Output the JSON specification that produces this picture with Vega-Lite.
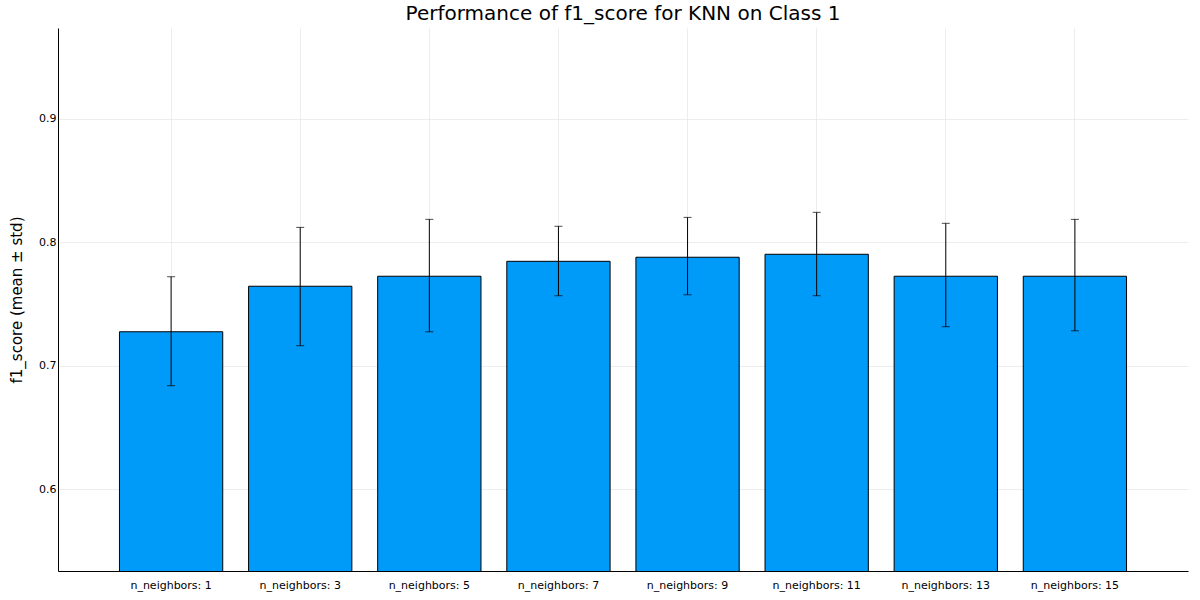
{
  "$schema": "https://vega.github.io/schema/vega-lite/v6.json",
  "width": 1130,
  "height": 543,
  "autosize": "none",
  "padding": {"left": 58, "top": 28, "right": 12, "bottom": 29},
  "background": "white",
  "title": {"text": "Performance of f1_score for KNN on Class 1", "fontSize": 20, "font": "DejaVu Sans", "fontWeight": "normal", "offset": 4},
  "data": {
    "values": [
      {"model": "n_neighbors: 1", "mean": 0.7275, "lo": 0.6838, "hi": 0.7721},
      {"model": "n_neighbors: 3", "mean": 0.7644, "lo": 0.7162, "hi": 0.8121},
      {"model": "n_neighbors: 5", "mean": 0.7725, "lo": 0.7275, "hi": 0.8186},
      {"model": "n_neighbors: 7", "mean": 0.7846, "lo": 0.7567, "hi": 0.8130},
      {"model": "n_neighbors: 9", "mean": 0.7879, "lo": 0.7575, "hi": 0.8202},
      {"model": "n_neighbors: 11", "mean": 0.7903, "lo": 0.7567, "hi": 0.8243},
      {"model": "n_neighbors: 13", "mean": 0.7725, "lo": 0.7316, "hi": 0.8154},
      {"model": "n_neighbors: 15", "mean": 0.7725, "lo": 0.7283, "hi": 0.8186}
    ]
  },
  "config": {
    "view": {"stroke": null},
    "axis": {"labelFont": "DejaVu Sans", "titleFont": "DejaVu Sans", "labelFontSize": 11, "labelColor": "black", "gridColor": "#e6e6e6", "gridOpacity": 0.7, "domainColor": "black", "tickColor": "black"}
  },
  "encoding": {
    "x": {
      "field": "model", "type": "nominal", "sort": null, "title": null,
      "scale": {"paddingInner": 0.2, "paddingOuter": 0.476},
      "axis": {"labelAngle": 0, "grid": true, "ticks": false, "labelPadding": 8}
    }
  },
  "layer": [
    {
      "mark": {"type": "bar", "color": "#009AF9", "stroke": "black", "strokeWidth": 1, "clip": true},
      "encoding": {
        "y": {
          "field": "mean", "type": "quantitative",
          "title": "f1_score (mean ± std)",
          "scale": {"domain": [0.5336, 0.9737], "nice": false, "zero": false},
          "axis": {"values": [0.6, 0.7, 0.8, 0.9], "format": ".1f", "ticks": false, "titleFontSize": 15, "titleFontWeight": "normal", "titlePadding": 14}
        }
      }
    },
    {
      "mark": {"type": "rule", "color": "black", "strokeWidth": 1},
      "encoding": {"y": {"field": "lo", "type": "quantitative"}, "y2": {"field": "hi"}}
    },
    {
      "mark": {"type": "tick", "color": "black", "size": 8, "thickness": 1, "orient": "horizontal"},
      "encoding": {"y": {"field": "lo", "type": "quantitative"}}
    },
    {
      "mark": {"type": "tick", "color": "black", "size": 8, "thickness": 1, "orient": "horizontal"},
      "encoding": {"y": {"field": "hi", "type": "quantitative"}}
    }
  ]
}
